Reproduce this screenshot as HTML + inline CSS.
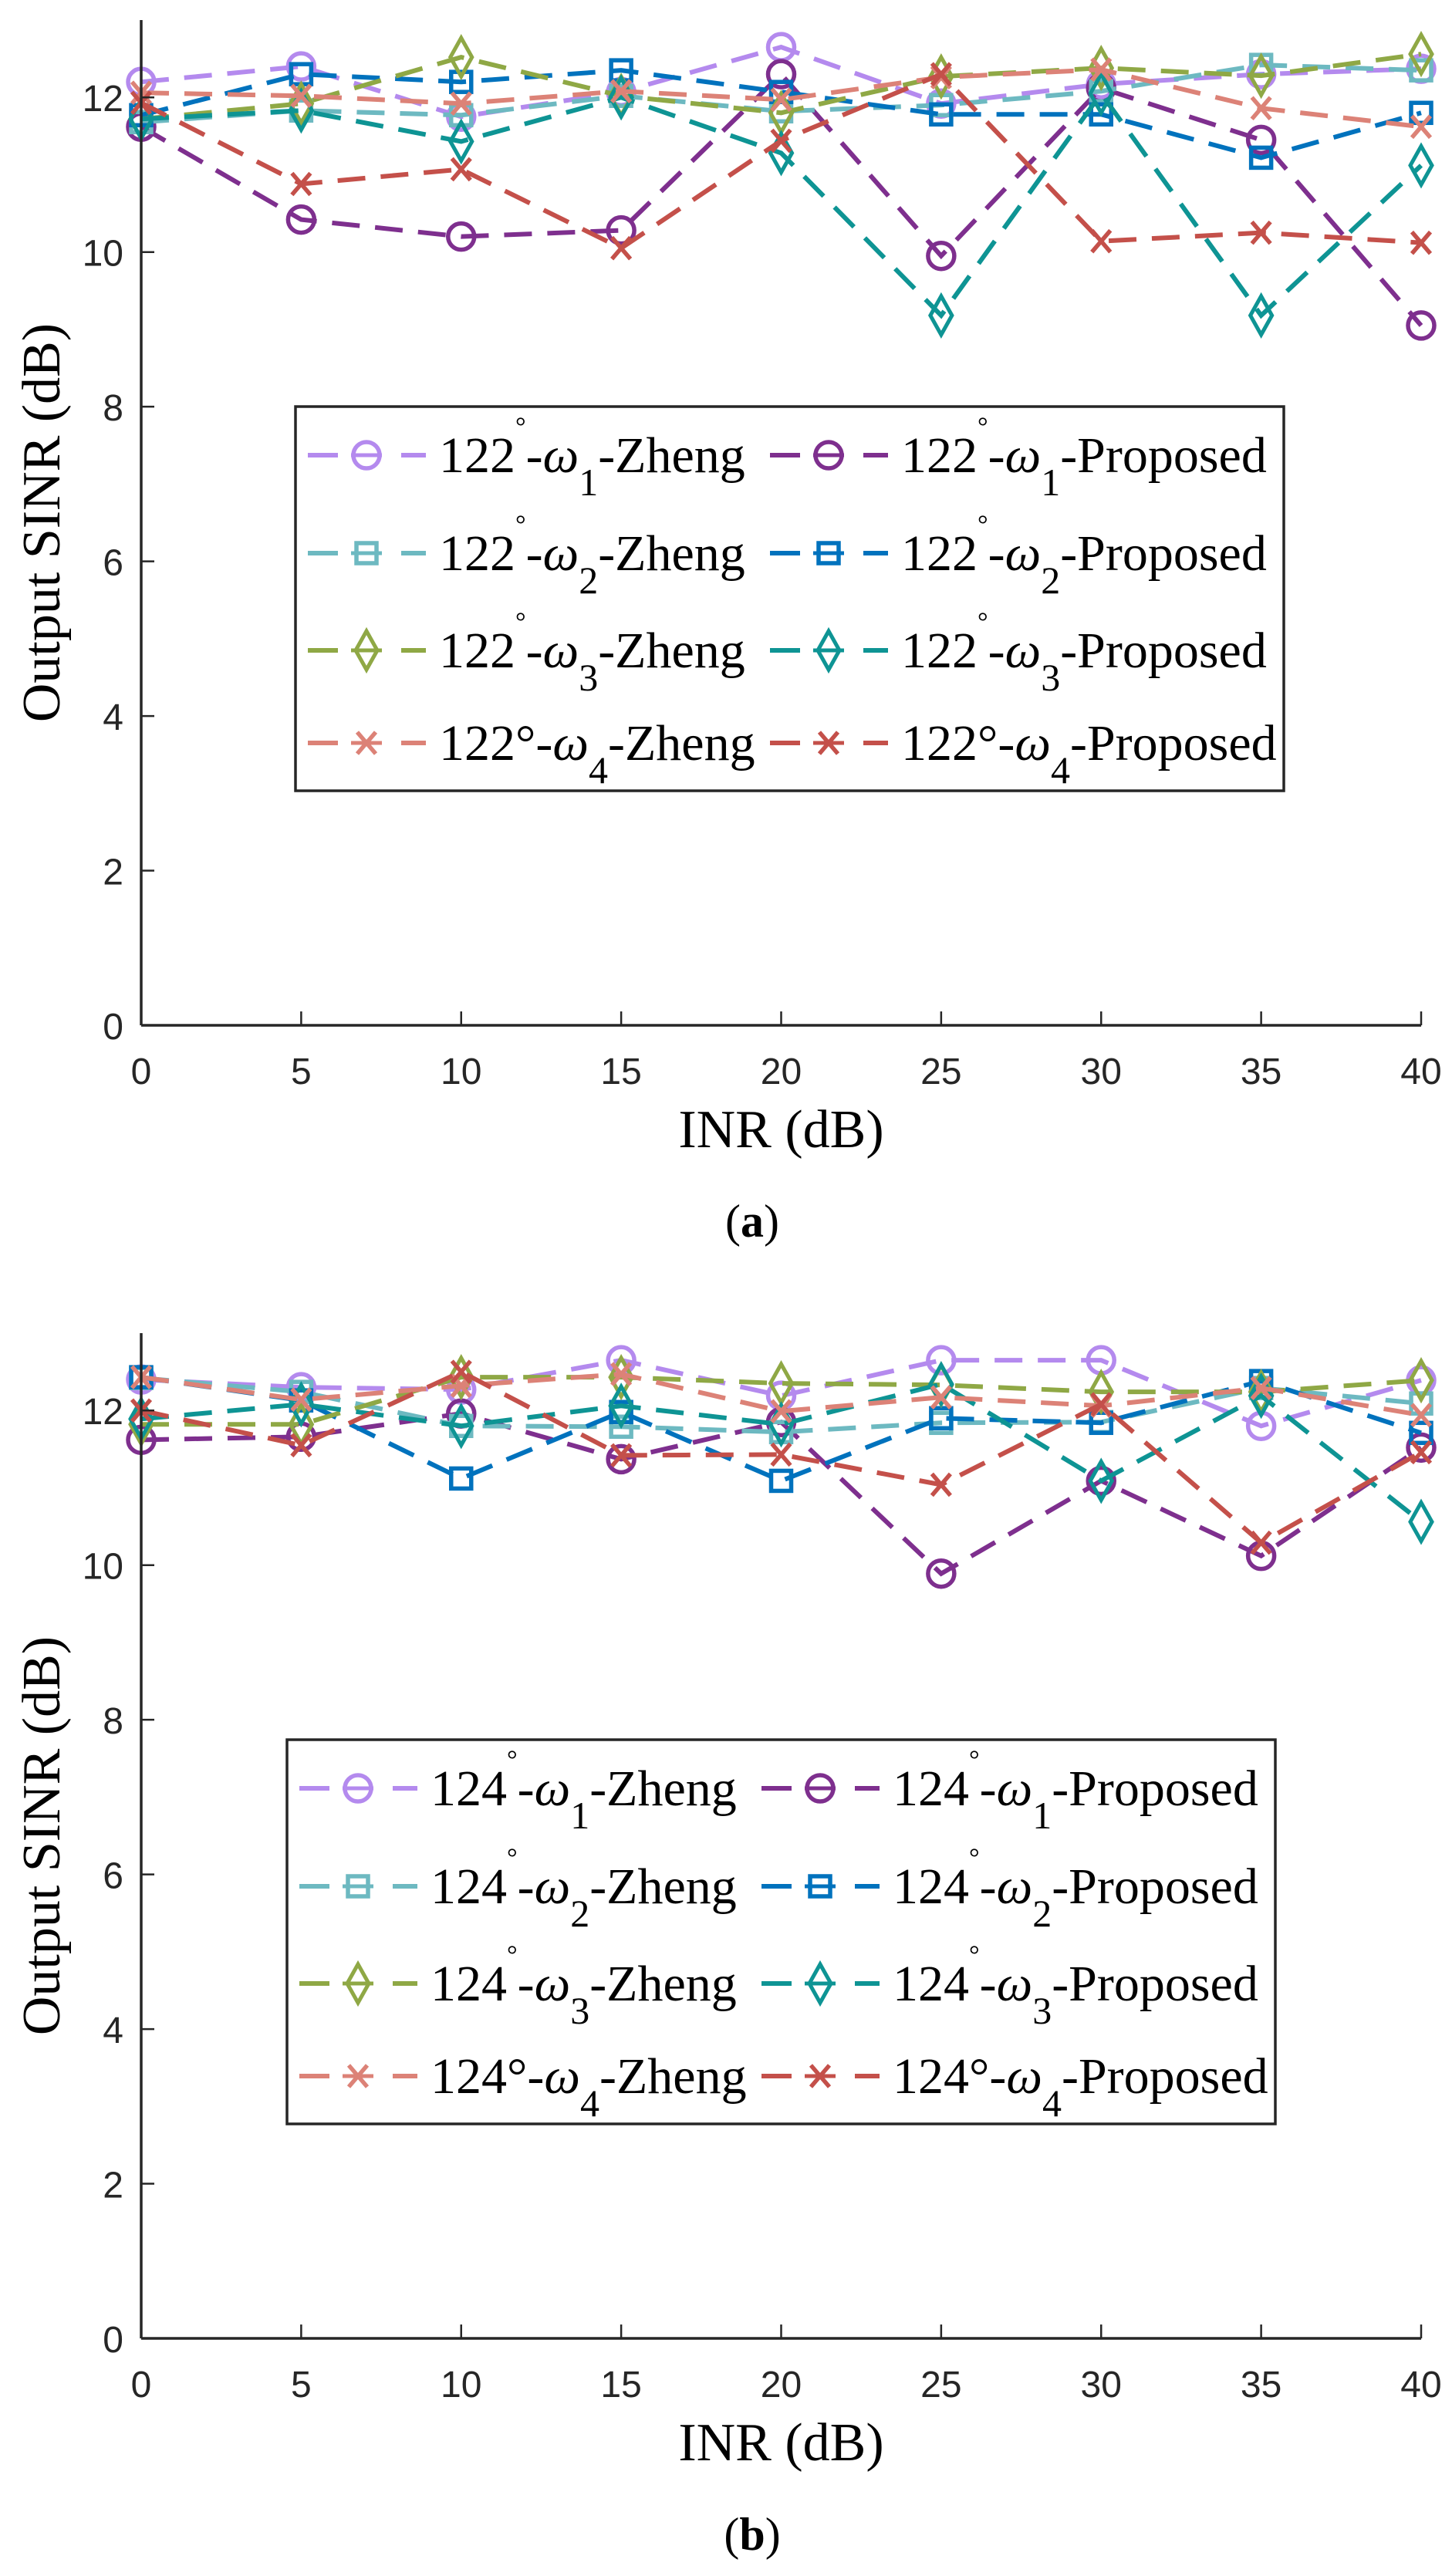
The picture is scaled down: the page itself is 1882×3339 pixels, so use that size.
<!DOCTYPE html>
<html><head><meta charset="utf-8">
<style>
html,body{margin:0;padding:0;background:#fff;}
svg{display:block;}
.tick{font-family:"Liberation Sans",sans-serif;font-size:48px;fill:#262626;}
.ser{font-family:"Liberation Serif",serif;fill:#000;}
</style></head>
<body>
<svg id="fig" width="1882" height="3339" viewBox="0 0 1882 3339" xmlns="http://www.w3.org/2000/svg"></svg>
<script>
const xVals = [0,5,10,15,20,25,30,35,40];
const xTicks = [0,5,10,15,20,25,30,35,40];
const yTicks = [0,2,4,6,8,10,12];
const seriesNames = ["w1-Zheng","w1-Proposed","w2-Zheng","w2-Proposed","w3-Zheng","w3-Proposed","w4-Zheng","w4-Proposed"];

// Panel (a) 122°
const a_w1Z = [12.2,12.4,11.75,12.07,12.65,11.92,12.17,12.3,12.37];
const a_w1P = [11.62,10.42,10.2,10.28,12.3,9.95,12.12,11.45,9.05];
const a_w2Z = [11.68,11.83,11.77,12.02,11.82,11.9,12.08,12.42,12.35];
const a_w2P = [11.77,12.3,12.2,12.35,12.07,11.78,11.78,11.22,11.8];
const a_w3Z = [11.72,11.92,12.52,12.02,11.8,12.27,12.38,12.28,12.56];
const a_w3P = [11.72,11.83,11.43,12.0,11.28,9.18,12.05,9.18,11.12];
const a_w4Z = [12.06,12.02,11.92,12.08,11.97,12.26,12.36,11.86,11.62];
const a_w4P = [11.93,10.88,11.07,10.05,11.44,12.3,10.14,10.25,10.12];

// Panel (b) 124°
const b_w1Z = [12.4,12.3,12.27,12.65,12.19,12.65,12.65,11.8,12.39];
const b_w1P = [11.62,11.66,11.96,11.37,11.85,9.89,11.09,10.12,11.52];
const b_w2Z = [12.42,12.24,11.8,11.79,11.72,11.84,11.85,12.29,12.09];
const b_w2P = [12.43,12.13,11.12,11.98,11.09,11.9,11.84,12.38,11.71];
const b_w3Z = [11.82,11.82,12.43,12.43,12.35,12.33,12.24,12.24,12.39];
const b_w3P = [11.89,12.08,11.8,12.06,11.82,12.34,11.09,12.19,10.56];
const b_w4Z = [12.43,12.14,12.32,12.47,11.99,12.17,12.06,12.29,11.94];
const b_w4P = [12.0,11.55,12.5,11.42,11.43,11.04,12.08,10.29,11.46];

const colors = ["#B48AEE","#7E2F8E","#6DB9C1","#0072BD","#8FA845","#0E9494","#DC8277","#C4504A"];
const markers = ["o","o","s","s","d","d","x","x"];

const NS = "http://www.w3.org/2000/svg";
const svg = document.getElementById("fig");
function mk(tag, attrs, parent){
  const e = document.createElementNS(NS, tag);
  for (const k in attrs) e.setAttribute(k, attrs[k]);
  (parent||svg).appendChild(e);
  return e;
}

function drawMarker(g, type, cx, cy, col){
  let m;
  if (type==="o") m = mk("circle",{cx:cx,cy:cy,r:17,fill:"none",stroke:col,"stroke-width":5.5},g);
  else if (type==="s") m = mk("rect",{x:cx-13,y:cy-13,width:26,height:26,fill:"none",stroke:col,"stroke-width":5.5},g);
  else if (type==="d") m = mk("polygon",{points:`${cx},${cy-25} ${cx+14},${cy} ${cx},${cy+25} ${cx-14},${cy}`,fill:"none",stroke:col,"stroke-width":5},g);
  else m = mk("path",{d:`M${cx-12},${cy-14}L${cx+12},${cy+14}M${cx-12},${cy+14}L${cx+12},${cy-14}`,fill:"none",stroke:col,"stroke-width":5.5},g);
  
  
  return m;
}

function panel(opts){
  const L=183, R=1842, B=opts.bottom, T=B-1303, YMAX=13;
  const xs = v => L + (v/40)*(R-L);
  const ys = v => B - (v/YMAX)*(B-T);
  const g = mk("g",{});
  
  

  opts.data.forEach((arr, i) => {
    const sg = mk("g",{},g);
    
    
    const pts = arr.map((v,j)=>xs(xVals[j])+","+ys(v)).join(" ");
    const pl = mk("polyline",{points:pts,fill:"none",stroke:colors[i],"stroke-width":6,"stroke-dasharray":"36,20"},sg);
    
    
    arr.forEach((v,j)=>drawMarker(sg, markers[i], xs(xVals[j]), ys(v), colors[i]));
  });

  const ax = mk("g",{},g);
  
  
  const yl = mk("line",{x1:L,y1:T,x2:L,y2:B,stroke:"#262626","stroke-width":3.5},ax);
  
  
  const xl = mk("line",{x1:L,y1:B,x2:R,y2:B,stroke:"#262626","stroke-width":3.5},ax);
  
  
  xTicks.forEach(t=>{
    const tl = mk("line",{x1:xs(t),y1:B,x2:xs(t),y2:B-18,stroke:"#262626","stroke-width":2.5},ax);
    
    
    const tx = mk("text",{x:xs(t),y:B+76,"text-anchor":"middle",class:"tick"},ax);
    tx.textContent = t;
    
    
  });
  yTicks.forEach(t=>{
    const tl = mk("line",{x1:L,y1:ys(t),x2:L+17,y2:ys(t),stroke:"#262626","stroke-width":2.5},ax);
    
    
    const tx = mk("text",{x:160,y:ys(t)+18,"text-anchor":"end",class:"tick"},ax);
    tx.textContent = t;
    
    
  });
  const yt = mk("text",{x:0,y:0,transform:`translate(77,${(T+B)/2}) rotate(-90)`,"text-anchor":"middle",class:"ser","font-size":70},ax);
  yt.textContent = "Output SINR (dB)";
  
  
  const xt = mk("text",{x:(L+R)/2,y:B+158,"text-anchor":"middle",class:"ser","font-size":70},ax);
  xt.textContent = "INR (dB)";
  
  
  const cap = mk("text",{x:975,y:B+274,"text-anchor":"middle",class:"ser","font-size":60},g);
  cap.innerHTML = '(<tspan font-weight="bold">'+opts.cap+'</tspan>)';
  
  

  const lg = mk("g",{},g);
  
  
  const lx = opts.legX, top = opts.legTop;
  const box = mk("rect",{x:lx,y:top,width:1281,height:498,fill:"#fff",stroke:"#262626","stroke-width":3.5},lg);
  
  
  const rows = [63,190,316,436];
  for (let r=0;r<4;r++){
    for (let c=0;c<2;c++){
      const i = r*2+c;
      const eg = mk("g",{},lg);
      
      
      const x0 = lx + 16 + c*599;
      const cy = top + rows[r];
      mk("line",{x1:x0,y1:cy,x2:x0+39,y2:cy,stroke:colors[i],"stroke-width":6},eg);
      mk("line",{x1:x0+121,y1:cy,x2:x0+153,y2:cy,stroke:colors[i],"stroke-width":6},eg);
      drawMarker(eg, markers[i], x0+76, cy, colors[i]);
      mk("line",{x1:x0+56,y1:cy,x2:x0+96,y2:cy,stroke:colors[i],"stroke-width":5},eg);
      const t = mk("text",{x:x0+170,y:cy+22,class:"ser","font-size":66},eg);
      const deg = r<3 ? '<tspan dy="-48" font-size="34">°</tspan><tspan dy="48">-</tspan>'
                      : '<tspan>°-</tspan>';
      t.innerHTML = opts.ang + deg + '<tspan font-style="italic">ω</tspan><tspan dy="30" font-size="50">'+(r+1)+'</tspan><tspan dy="-30">-'+(c===0?'Zheng':'Proposed')+'</tspan>';
      
      
    }
  }
}

panel({name:"chart-a", bottom:1329, cap:"a", ang:"122",
  data:[a_w1Z,a_w1P,a_w2Z,a_w2P,a_w3Z,a_w3P,a_w4Z,a_w4P], legX:383, legTop:527});
panel({name:"chart-b", bottom:3031, cap:"b", ang:"124",
  data:[b_w1Z,b_w1P,b_w2Z,b_w2P,b_w3Z,b_w3P,b_w4Z,b_w4P], legX:372, legTop:2255});
</script>
</body></html>
